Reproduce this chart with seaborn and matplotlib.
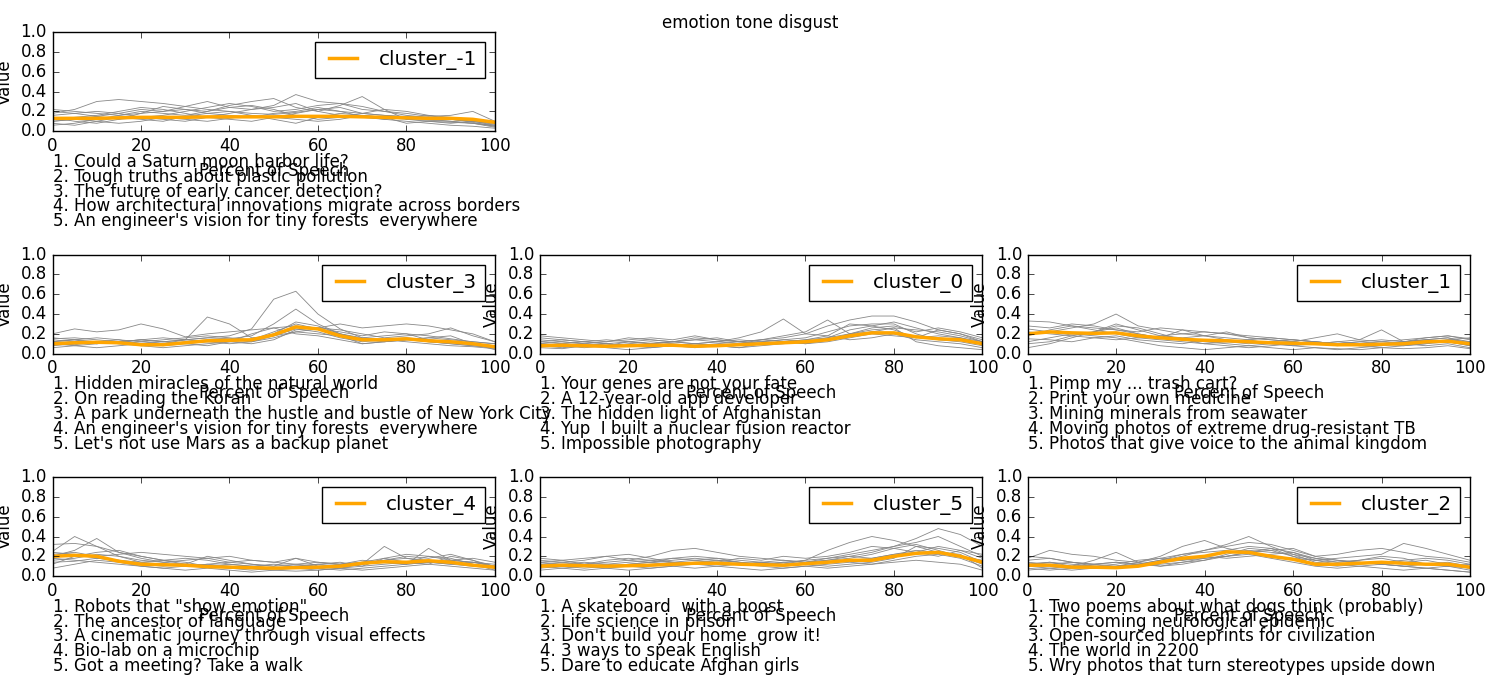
import pandas as pd
import matplotlib
matplotlib.use("Agg")
import matplotlib.pyplot as plt
import seaborn as sns

plt.style.use("classic")

# percent of speech sample positions
pct = [0, 5, 10, 15, 20, 25, 30, 35, 40, 45, 50, 55, 60, 65, 70, 75, 80, 85, 90, 95, 100]

# cluster means (orange)
mean_m1 = [0.13, 0.13, 0.13, 0.135, 0.14, 0.14, 0.14, 0.145, 0.145, 0.145, 0.145, 0.15, 0.15, 0.15, 0.145, 0.14, 0.135, 0.13, 0.13, 0.12, 0.09]
mean_3 = [0.10, 0.11, 0.115, 0.11, 0.09, 0.09, 0.11, 0.13, 0.135, 0.14, 0.19, 0.27, 0.25, 0.18, 0.14, 0.14, 0.15, 0.13, 0.12, 0.10, 0.07]
mean_0 = [0.08, 0.085, 0.08, 0.075, 0.08, 0.085, 0.085, 0.075, 0.08, 0.09, 0.10, 0.11, 0.12, 0.14, 0.18, 0.21, 0.21, 0.17, 0.15, 0.14, 0.10]
mean_1 = [0.20, 0.22, 0.21, 0.205, 0.21, 0.18, 0.16, 0.145, 0.135, 0.13, 0.12, 0.11, 0.105, 0.10, 0.09, 0.09, 0.095, 0.10, 0.12, 0.125, 0.10]
mean_4 = [0.20, 0.21, 0.20, 0.15, 0.12, 0.115, 0.11, 0.095, 0.09, 0.085, 0.08, 0.085, 0.09, 0.10, 0.13, 0.145, 0.14, 0.155, 0.14, 0.11, 0.09]
mean_5 = [0.10, 0.11, 0.105, 0.10, 0.105, 0.11, 0.12, 0.13, 0.13, 0.12, 0.115, 0.11, 0.125, 0.14, 0.16, 0.16, 0.20, 0.23, 0.24, 0.20, 0.14]
mean_2 = [0.11, 0.11, 0.09, 0.09, 0.085, 0.10, 0.14, 0.18, 0.20, 0.245, 0.24, 0.20, 0.17, 0.12, 0.12, 0.13, 0.14, 0.13, 0.12, 0.12, 0.09]

# individual talks (grey)
talks_m1 = [
    [0.18, 0.22, 0.30, 0.32, 0.30, 0.28, 0.25, 0.22, 0.20, 0.18, 0.17, 0.19, 0.22, 0.24, 0.18, 0.16, 0.14, 0.12, 0.10, 0.08, 0.05],
    [0.10, 0.12, 0.15, 0.18, 0.22, 0.20, 0.25, 0.30, 0.24, 0.22, 0.26, 0.37, 0.30, 0.28, 0.22, 0.20, 0.16, 0.14, 0.12, 0.10, 0.07],
    [0.14, 0.10, 0.08, 0.12, 0.18, 0.25, 0.22, 0.20, 0.26, 0.30, 0.33, 0.24, 0.20, 0.26, 0.35, 0.22, 0.20, 0.16, 0.14, 0.12, 0.08],
    [0.08, 0.06, 0.10, 0.14, 0.12, 0.10, 0.15, 0.18, 0.20, 0.16, 0.12, 0.08, 0.14, 0.18, 0.16, 0.14, 0.08, 0.10, 0.09, 0.08, 0.06],
    [0.20, 0.18, 0.15, 0.12, 0.14, 0.16, 0.20, 0.24, 0.28, 0.25, 0.20, 0.22, 0.26, 0.28, 0.25, 0.20, 0.18, 0.15, 0.16, 0.20, 0.10],
    [0.12, 0.14, 0.16, 0.20, 0.24, 0.22, 0.18, 0.14, 0.12, 0.10, 0.14, 0.18, 0.22, 0.20, 0.15, 0.12, 0.10, 0.08, 0.06, 0.05, 0.03],
    [0.16, 0.18, 0.20, 0.18, 0.14, 0.12, 0.10, 0.14, 0.18, 0.22, 0.24, 0.28, 0.20, 0.16, 0.14, 0.12, 0.14, 0.16, 0.12, 0.10, 0.08],
    [0.06, 0.08, 0.12, 0.16, 0.20, 0.18, 0.16, 0.20, 0.24, 0.26, 0.22, 0.16, 0.12, 0.14, 0.18, 0.22, 0.12, 0.10, 0.08, 0.10, 0.06],
    [0.22, 0.20, 0.18, 0.16, 0.18, 0.20, 0.22, 0.18, 0.16, 0.14, 0.18, 0.20, 0.24, 0.20, 0.18, 0.16, 0.15, 0.13, 0.12, 0.09, 0.05],
    [0.10, 0.12, 0.10, 0.08, 0.10, 0.14, 0.12, 0.10, 0.13, 0.16, 0.14, 0.12, 0.10, 0.12, 0.16, 0.14, 0.12, 0.11, 0.10, 0.08, 0.04],
]
talks_3 = [
    [0.14, 0.12, 0.10, 0.12, 0.14, 0.12, 0.14, 0.16, 0.18, 0.25, 0.55, 0.63, 0.40, 0.25, 0.16, 0.14, 0.15, 0.12, 0.10, 0.08, 0.06],
    [0.10, 0.08, 0.06, 0.08, 0.10, 0.12, 0.14, 0.16, 0.15, 0.18, 0.30, 0.45, 0.30, 0.20, 0.15, 0.14, 0.12, 0.10, 0.08, 0.07, 0.05],
    [0.12, 0.14, 0.12, 0.10, 0.12, 0.10, 0.14, 0.37, 0.30, 0.16, 0.18, 0.22, 0.25, 0.20, 0.16, 0.18, 0.20, 0.18, 0.15, 0.12, 0.10],
    [0.20, 0.25, 0.22, 0.24, 0.30, 0.25, 0.17, 0.20, 0.22, 0.24, 0.26, 0.28, 0.26, 0.30, 0.26, 0.28, 0.30, 0.28, 0.24, 0.20, 0.12],
    [0.08, 0.10, 0.12, 0.14, 0.10, 0.08, 0.10, 0.12, 0.14, 0.12, 0.18, 0.25, 0.22, 0.16, 0.12, 0.14, 0.16, 0.14, 0.12, 0.10, 0.08],
    [0.15, 0.16, 0.14, 0.12, 0.08, 0.06, 0.08, 0.10, 0.12, 0.14, 0.20, 0.32, 0.28, 0.20, 0.14, 0.12, 0.14, 0.12, 0.10, 0.08, 0.06],
    [0.06, 0.08, 0.10, 0.12, 0.14, 0.16, 0.14, 0.12, 0.10, 0.12, 0.16, 0.22, 0.20, 0.18, 0.10, 0.12, 0.14, 0.16, 0.18, 0.10, 0.04],
    [0.12, 0.14, 0.16, 0.14, 0.12, 0.14, 0.16, 0.18, 0.16, 0.14, 0.22, 0.30, 0.25, 0.22, 0.18, 0.22, 0.20, 0.14, 0.12, 0.10, 0.08],
    [0.10, 0.09, 0.12, 0.10, 0.08, 0.10, 0.12, 0.14, 0.12, 0.20, 0.26, 0.20, 0.18, 0.14, 0.10, 0.12, 0.14, 0.16, 0.14, 0.12, 0.10],
    [0.16, 0.14, 0.10, 0.12, 0.14, 0.12, 0.10, 0.08, 0.12, 0.10, 0.14, 0.24, 0.26, 0.24, 0.20, 0.16, 0.18, 0.20, 0.26, 0.18, 0.12],
]
talks_0 = [
    [0.12, 0.10, 0.08, 0.10, 0.12, 0.10, 0.12, 0.14, 0.12, 0.16, 0.22, 0.35, 0.20, 0.18, 0.14, 0.16, 0.20, 0.18, 0.16, 0.14, 0.10],
    [0.08, 0.10, 0.12, 0.10, 0.08, 0.10, 0.12, 0.10, 0.08, 0.10, 0.14, 0.18, 0.22, 0.34, 0.20, 0.24, 0.26, 0.24, 0.22, 0.18, 0.12],
    [0.10, 0.08, 0.06, 0.08, 0.10, 0.12, 0.10, 0.08, 0.10, 0.12, 0.14, 0.16, 0.20, 0.28, 0.34, 0.38, 0.38, 0.32, 0.24, 0.20, 0.14],
    [0.18, 0.16, 0.14, 0.12, 0.16, 0.14, 0.12, 0.16, 0.14, 0.12, 0.10, 0.12, 0.14, 0.18, 0.30, 0.28, 0.24, 0.16, 0.24, 0.20, 0.12],
    [0.06, 0.05, 0.08, 0.06, 0.04, 0.06, 0.08, 0.06, 0.08, 0.06, 0.08, 0.10, 0.12, 0.14, 0.20, 0.22, 0.26, 0.12, 0.08, 0.06, 0.04],
    [0.10, 0.12, 0.10, 0.08, 0.12, 0.14, 0.12, 0.10, 0.12, 0.14, 0.12, 0.14, 0.16, 0.22, 0.28, 0.30, 0.30, 0.20, 0.14, 0.12, 0.08],
    [0.14, 0.12, 0.10, 0.12, 0.14, 0.16, 0.14, 0.18, 0.14, 0.12, 0.14, 0.12, 0.10, 0.12, 0.16, 0.20, 0.18, 0.16, 0.18, 0.16, 0.12],
    [0.08, 0.06, 0.08, 0.10, 0.08, 0.06, 0.08, 0.10, 0.08, 0.06, 0.10, 0.12, 0.10, 0.14, 0.18, 0.22, 0.20, 0.14, 0.12, 0.10, 0.06],
    [0.12, 0.14, 0.12, 0.10, 0.08, 0.10, 0.12, 0.14, 0.16, 0.12, 0.10, 0.12, 0.14, 0.16, 0.24, 0.28, 0.32, 0.26, 0.20, 0.16, 0.10],
    [0.16, 0.14, 0.12, 0.14, 0.12, 0.10, 0.08, 0.10, 0.12, 0.10, 0.12, 0.14, 0.12, 0.16, 0.20, 0.26, 0.28, 0.22, 0.26, 0.22, 0.16],
]
talks_1 = [
    [0.20, 0.22, 0.26, 0.30, 0.40, 0.28, 0.24, 0.20, 0.18, 0.16, 0.14, 0.16, 0.14, 0.12, 0.10, 0.12, 0.14, 0.12, 0.14, 0.16, 0.12],
    [0.33, 0.32, 0.28, 0.26, 0.24, 0.20, 0.16, 0.14, 0.12, 0.10, 0.08, 0.10, 0.12, 0.10, 0.08, 0.10, 0.12, 0.14, 0.16, 0.18, 0.15],
    [0.06, 0.10, 0.16, 0.22, 0.28, 0.26, 0.20, 0.14, 0.10, 0.08, 0.06, 0.08, 0.10, 0.12, 0.10, 0.08, 0.06, 0.08, 0.10, 0.12, 0.08],
    [0.28, 0.26, 0.30, 0.28, 0.24, 0.22, 0.26, 0.24, 0.22, 0.20, 0.16, 0.14, 0.12, 0.16, 0.20, 0.14, 0.24, 0.12, 0.14, 0.16, 0.10],
    [0.15, 0.14, 0.12, 0.16, 0.18, 0.14, 0.12, 0.10, 0.14, 0.12, 0.10, 0.12, 0.14, 0.12, 0.10, 0.08, 0.10, 0.12, 0.14, 0.12, 0.08],
    [0.10, 0.12, 0.18, 0.22, 0.26, 0.20, 0.16, 0.24, 0.18, 0.14, 0.12, 0.10, 0.08, 0.06, 0.04, 0.06, 0.08, 0.10, 0.08, 0.10, 0.06],
    [0.22, 0.20, 0.18, 0.16, 0.14, 0.16, 0.18, 0.20, 0.22, 0.20, 0.18, 0.16, 0.14, 0.12, 0.10, 0.12, 0.10, 0.08, 0.10, 0.14, 0.16],
    [0.12, 0.16, 0.20, 0.18, 0.16, 0.12, 0.08, 0.06, 0.04, 0.06, 0.08, 0.06, 0.04, 0.06, 0.05, 0.04, 0.06, 0.05, 0.06, 0.08, 0.05],
    [0.25, 0.22, 0.20, 0.22, 0.30, 0.24, 0.18, 0.16, 0.18, 0.22, 0.16, 0.14, 0.12, 0.10, 0.12, 0.10, 0.08, 0.12, 0.16, 0.18, 0.14],
    [0.18, 0.24, 0.28, 0.24, 0.20, 0.16, 0.14, 0.12, 0.10, 0.12, 0.14, 0.10, 0.08, 0.10, 0.12, 0.14, 0.12, 0.10, 0.12, 0.14, 0.12],
]
talks_4 = [
    [0.25, 0.40, 0.30, 0.20, 0.16, 0.14, 0.16, 0.18, 0.14, 0.12, 0.10, 0.12, 0.14, 0.12, 0.16, 0.14, 0.12, 0.14, 0.12, 0.14, 0.10],
    [0.20, 0.26, 0.38, 0.24, 0.20, 0.16, 0.12, 0.10, 0.08, 0.06, 0.08, 0.10, 0.08, 0.10, 0.12, 0.30, 0.18, 0.16, 0.14, 0.12, 0.08],
    [0.32, 0.33, 0.30, 0.24, 0.18, 0.14, 0.12, 0.10, 0.08, 0.10, 0.12, 0.10, 0.08, 0.06, 0.08, 0.10, 0.12, 0.28, 0.16, 0.14, 0.10],
    [0.16, 0.18, 0.22, 0.20, 0.14, 0.12, 0.10, 0.12, 0.14, 0.16, 0.14, 0.12, 0.10, 0.12, 0.14, 0.16, 0.18, 0.14, 0.16, 0.14, 0.12],
    [0.08, 0.12, 0.16, 0.14, 0.10, 0.08, 0.06, 0.08, 0.06, 0.04, 0.06, 0.08, 0.06, 0.08, 0.10, 0.12, 0.14, 0.20, 0.18, 0.12, 0.06],
    [0.22, 0.24, 0.20, 0.22, 0.24, 0.22, 0.20, 0.18, 0.20, 0.16, 0.14, 0.18, 0.14, 0.12, 0.14, 0.18, 0.22, 0.20, 0.16, 0.18, 0.14],
    [0.18, 0.16, 0.14, 0.12, 0.10, 0.08, 0.10, 0.12, 0.10, 0.08, 0.06, 0.05, 0.06, 0.08, 0.06, 0.08, 0.10, 0.12, 0.10, 0.08, 0.06],
    [0.12, 0.20, 0.24, 0.26, 0.20, 0.16, 0.14, 0.10, 0.12, 0.10, 0.08, 0.10, 0.12, 0.14, 0.10, 0.18, 0.14, 0.12, 0.20, 0.16, 0.10],
    [0.24, 0.22, 0.18, 0.16, 0.12, 0.10, 0.12, 0.20, 0.16, 0.12, 0.10, 0.18, 0.10, 0.08, 0.12, 0.16, 0.20, 0.18, 0.22, 0.16, 0.08],
    [0.14, 0.15, 0.18, 0.16, 0.14, 0.16, 0.18, 0.16, 0.12, 0.10, 0.08, 0.10, 0.12, 0.10, 0.12, 0.14, 0.12, 0.14, 0.12, 0.10, 0.08],
]
talks_5 = [
    [0.14, 0.16, 0.12, 0.10, 0.12, 0.14, 0.12, 0.14, 0.16, 0.14, 0.12, 0.14, 0.16, 0.18, 0.22, 0.26, 0.30, 0.38, 0.48, 0.42, 0.30],
    [0.10, 0.12, 0.14, 0.12, 0.10, 0.12, 0.14, 0.12, 0.10, 0.12, 0.14, 0.12, 0.16, 0.26, 0.34, 0.40, 0.36, 0.30, 0.24, 0.20, 0.16],
    [0.18, 0.16, 0.18, 0.20, 0.16, 0.14, 0.18, 0.16, 0.14, 0.12, 0.14, 0.16, 0.14, 0.18, 0.20, 0.24, 0.30, 0.34, 0.40, 0.30, 0.20],
    [0.08, 0.10, 0.12, 0.14, 0.16, 0.20, 0.26, 0.28, 0.24, 0.20, 0.18, 0.16, 0.14, 0.16, 0.18, 0.22, 0.28, 0.32, 0.26, 0.20, 0.12],
    [0.12, 0.10, 0.08, 0.10, 0.12, 0.14, 0.16, 0.18, 0.16, 0.14, 0.12, 0.10, 0.12, 0.14, 0.16, 0.18, 0.22, 0.26, 0.24, 0.22, 0.08],
    [0.06, 0.08, 0.10, 0.08, 0.06, 0.08, 0.10, 0.12, 0.14, 0.12, 0.10, 0.08, 0.10, 0.12, 0.14, 0.12, 0.16, 0.20, 0.22, 0.18, 0.10],
    [0.16, 0.14, 0.12, 0.16, 0.18, 0.16, 0.14, 0.12, 0.14, 0.18, 0.16, 0.20, 0.18, 0.20, 0.24, 0.30, 0.28, 0.24, 0.20, 0.26, 0.18],
    [0.12, 0.14, 0.16, 0.20, 0.22, 0.18, 0.14, 0.16, 0.18, 0.14, 0.12, 0.14, 0.12, 0.10, 0.12, 0.14, 0.18, 0.30, 0.28, 0.24, 0.14],
    [0.10, 0.08, 0.06, 0.08, 0.10, 0.08, 0.10, 0.08, 0.10, 0.08, 0.06, 0.08, 0.10, 0.08, 0.10, 0.12, 0.14, 0.16, 0.14, 0.12, 0.06],
    [0.14, 0.12, 0.10, 0.12, 0.14, 0.16, 0.18, 0.20, 0.18, 0.16, 0.14, 0.12, 0.14, 0.16, 0.20, 0.18, 0.22, 0.24, 0.30, 0.26, 0.22],
]
talks_2 = [
    [0.12, 0.14, 0.10, 0.08, 0.10, 0.12, 0.16, 0.20, 0.26, 0.32, 0.40, 0.30, 0.22, 0.14, 0.12, 0.14, 0.12, 0.10, 0.08, 0.06, 0.04],
    [0.10, 0.12, 0.14, 0.12, 0.10, 0.14, 0.20, 0.30, 0.36, 0.28, 0.24, 0.28, 0.20, 0.16, 0.14, 0.16, 0.18, 0.14, 0.12, 0.10, 0.08],
    [0.16, 0.18, 0.14, 0.12, 0.14, 0.12, 0.10, 0.14, 0.16, 0.20, 0.24, 0.20, 0.18, 0.16, 0.18, 0.20, 0.22, 0.33, 0.28, 0.22, 0.16],
    [0.18, 0.26, 0.22, 0.20, 0.16, 0.14, 0.18, 0.22, 0.26, 0.30, 0.34, 0.32, 0.26, 0.20, 0.22, 0.26, 0.28, 0.24, 0.20, 0.18, 0.14],
    [0.08, 0.06, 0.08, 0.10, 0.08, 0.10, 0.12, 0.14, 0.18, 0.20, 0.22, 0.18, 0.14, 0.10, 0.08, 0.10, 0.12, 0.10, 0.08, 0.06, 0.04],
    [0.14, 0.12, 0.10, 0.16, 0.24, 0.14, 0.10, 0.12, 0.16, 0.22, 0.28, 0.26, 0.20, 0.12, 0.10, 0.12, 0.14, 0.16, 0.18, 0.16, 0.12],
    [0.10, 0.08, 0.06, 0.08, 0.10, 0.12, 0.14, 0.16, 0.20, 0.24, 0.26, 0.24, 0.22, 0.18, 0.16, 0.14, 0.12, 0.14, 0.16, 0.12, 0.08],
    [0.20, 0.18, 0.14, 0.10, 0.08, 0.10, 0.14, 0.18, 0.20, 0.18, 0.20, 0.22, 0.24, 0.18, 0.14, 0.16, 0.20, 0.18, 0.12, 0.10, 0.06],
    [0.06, 0.08, 0.10, 0.12, 0.14, 0.12, 0.16, 0.22, 0.24, 0.26, 0.30, 0.28, 0.24, 0.16, 0.12, 0.10, 0.08, 0.06, 0.08, 0.10, 0.12],
    [0.12, 0.14, 0.12, 0.10, 0.12, 0.16, 0.18, 0.16, 0.18, 0.20, 0.24, 0.26, 0.28, 0.20, 0.16, 0.14, 0.12, 0.10, 0.12, 0.14, 0.10],
]

# top talk titles per cluster
titles_m1 = ["Could a Saturn moon harbor life?", "Tough truths about plastic pollution",
             "The future of early cancer detection?", "How architectural innovations migrate across borders",
             "An engineer's vision for tiny forests  everywhere"]
titles_3 = ["Hidden miracles of the natural world", "On reading the Koran",
            "A park underneath the hustle and bustle of New York City",
            "An engineer's vision for tiny forests  everywhere", "Let's not use Mars as a backup planet"]
titles_0 = ["Your genes are not your fate", "A 12-year-old app developer", "The hidden light of Afghanistan",
            "Yup  I built a nuclear fusion reactor", "Impossible photography"]
titles_1 = ["Pimp my ... trash cart?", "Print your own medicine", "Mining minerals from seawater",
            "Moving photos of extreme drug-resistant TB", "Photos that give voice to the animal kingdom"]
titles_4 = ["Robots that \"show emotion\"", "The ancestor of language",
            "A cinematic journey through visual effects", "Bio-lab on a microchip", "Got a meeting? Take a walk"]
titles_5 = ["A skateboard  with a boost", "Life science in prison", "Don't build your home  grow it!",
            "3 ways to speak English", "Dare to educate Afghan girls"]
titles_2 = ["Two poems about what dogs think (probably)", "The coming neurological epidemic",
            "Open-sourced blueprints for civilization", "The world in 2200",
            "Wry photos that turn stereotypes upside down"]

panels = [
    ((0, 0), "cluster_-1", talks_m1, mean_m1, titles_m1),
    ((1, 0), "cluster_3", talks_3, mean_3, titles_3),
    ((1, 1), "cluster_0", talks_0, mean_0, titles_0),
    ((1, 2), "cluster_1", talks_1, mean_1, titles_1),
    ((2, 0), "cluster_4", talks_4, mean_4, titles_4),
    ((2, 1), "cluster_5", talks_5, mean_5, titles_5),
    ((2, 2), "cluster_2", talks_2, mean_2, titles_2),
]

fig, axes = plt.subplots(3, 3, figsize=(15, 7), dpi=100)
fig.patch.set_facecolor("white")
fig.subplots_adjust(left=0.035, right=0.98, top=0.954, bottom=0.177, wspace=0.102, hspace=1.247)
axes[0, 1].axis("off")
axes[0, 2].axis("off")

for (r, c), name, talks, mean, titles in panels:
    ax = axes[r, c]
    rows = []
    for i, vals in enumerate(talks):
        for x, v in zip(pct, vals):
            rows.append({"talk": i, "pct": x, "value": v})
    df = pd.DataFrame(rows)
    sns.lineplot(data=df, x="pct", y="value", units="talk", estimator=None,
                 color="#888888", lw=0.6, ax=ax, legend=False)
    sns.lineplot(x=pct, y=mean, color="orange", lw=2.5, ax=ax, label=name)
    ax.set_xlim(0, 100)
    ax.set_ylim(0, 1)
    ax.set_xlabel("Percent of Speech")
    ax.set_ylabel("Value")
    ax.legend(loc="upper right")
    ax.text(0, -0.22, "\n".join(f"{k}. {t}" for k, t in enumerate(titles, 1)),
            transform=ax.transAxes, va="top", ha="left", fontsize=12, linespacing=0.77)

fig.suptitle("emotion tone disgust")
fig.savefig("out.png", facecolor="white")
